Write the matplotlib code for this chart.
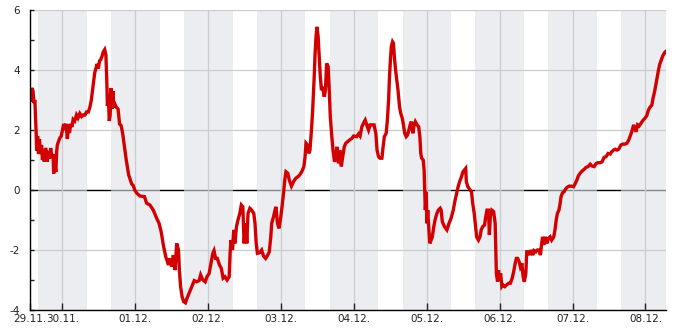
import numpy as np
import matplotlib
matplotlib.use('Agg')
import matplotlib.pyplot as plt
from matplotlib.ticker import MultipleLocator

# hours since 29.11. 00:00 and values
hours = [13.3, 13.6, 13.9, 14.3, 14.6, 14.9, 15.3, 15.5, 15.8, 16.1, 16.4, 16.8, 17.1, 17.4, 17.7, 18.0,
         18.4, 18.7, 19.0, 19.4, 19.8, 20.1, 20.5, 20.9, 21.1, 21.5, 21.8, 22.1, 22.3, 22.8, 23.2, 23.6,
         24.0, 24.4, 24.8, 25.2, 25.6, 26.0, 26.3, 26.7, 27.1, 27.5, 28.0, 28.6, 29.1, 29.7, 30.3, 30.8,
         31.4, 31.9, 32.5, 33.0, 33.5, 34.1, 34.6, 35.0, 35.4, 35.8, 36.2, 36.6, 37.0, 37.4, 37.9, 38.3,
         38.6, 38.8, 39.1, 39.4, 39.7, 40.0, 40.3, 40.6, 40.9, 41.3, 41.8, 42.3, 42.8, 43.3, 43.8, 44.2,
         44.6, 45.0, 45.4, 45.8, 46.3, 46.8, 47.3, 47.8,
         48.5, 49.5, 51.0, 51.7, 52.8, 53.9, 55.0, 55.8, 56.5, 57.2, 58.0, 58.9, 59.4, 60.0, 60.5, 61.1,
         61.6, 62.2, 62.5, 62.9, 63.4, 63.9, 64.5, 65.0, 65.7, 66.6, 67.4, 68.2, 69.0, 69.5, 70.1, 71.0,
         71.6, 72.3, 72.9, 73.5, 73.9, 74.4, 75.0, 75.7, 76.3, 76.9, 77.5, 78.2, 78.9, 79.2, 79.5, 80.0,
         80.4, 80.8, 81.3, 81.8, 82.4, 82.9, 83.4, 83.8,
         84.4, 84.7, 85.1, 85.7, 86.3, 87.0, 87.4, 87.8, 88.2, 88.9, 89.6, 90.2, 90.9, 91.6, 92.1, 92.6,
         92.9, 93.5, 94.0, 94.3, 94.8, 95.3, 95.9, 96.3, 96.8, 97.2, 97.6, 98.2, 98.7, 99.4, 100.1, 100.8,
         101.5, 102.1, 102.8, 103.5, 103.9, 104.2, 104.7, 105.1, 105.5, 106.0, 106.4, 106.9, 107.2, 107.5,
         107.8, 108.2, 108.5, 108.9, 109.3, 109.7, 110.2, 110.6, 111.0, 111.5, 111.9, 112.2, 112.7, 113.1,
         113.6, 114.0, 114.4, 114.9, 115.3, 115.8, 116.3, 116.8, 117.3, 117.9, 118.6, 119.3, 119.9,
         120.9, 121.5, 122.0, 122.6, 123.1, 123.7, 124.2, 124.8, 125.3, 126.1, 126.6, 127.2, 127.6, 128.1,
         128.6, 129.2, 129.6, 130.0, 130.6, 131.0, 131.4, 131.7, 132.0, 132.3, 132.7, 133.0, 133.3, 133.7,
         134.1, 134.5, 135.0, 135.4, 135.9, 136.3, 136.7, 137.2, 137.6, 138.1, 138.5, 138.9, 139.4, 139.8,
         140.2, 140.8, 141.3, 141.7, 142.0, 142.3, 142.8, 143.1, 143.3, 143.5, 143.8, 144.0, 144.3, 144.6,
         145.0, 145.4, 145.8, 146.3, 146.7, 147.3, 147.8, 148.4, 148.7, 149.1, 149.8, 150.6, 151.3, 152.0,
         152.7, 153.2, 153.7, 154.3, 154.8, 155.4, 155.9, 156.4,
         156.8, 157.0, 157.5, 158.1, 158.7, 159.1, 159.6, 160.0, 160.4, 161.0, 161.5, 161.9, 162.4, 163.0,
         163.4, 163.8, 164.3, 164.6, 164.9, 165.4, 166.0, 166.5, 166.7, 166.9, 167.3, 167.6, 167.9, 168.3,
         168.7, 169.1, 169.7, 170.2, 170.9, 171.5, 172.1, 172.6, 173.1, 173.5, 173.9, 174.4, 174.8, 175.3,
         175.7, 176.1, 176.6, 176.9, 177.5, 177.9, 178.3, 178.9, 179.3, 179.9, 180.4, 181.0, 181.4, 181.7,
         182.1, 182.5, 183.0, 183.5, 184.1, 184.6, 185.1, 185.8, 186.2, 186.6, 187.0, 187.5, 187.9, 188.2,
         188.7, 189.2, 189.6, 190.2, 190.9,
         191.5, 192.3, 192.8, 193.4, 193.9, 194.5, 195.1, 195.8, 196.5, 197.1, 197.8, 198.4, 199.1, 199.8,
         200.4, 201.1, 201.7, 202.4, 203.0, 203.7, 204.4, 204.9, 205.5, 206.0, 206.6, 207.2, 207.9, 208.5,
         209.2, 209.9, 210.5, 211.1, 211.6, 212.1, 212.5, 212.9, 213.4, 213.9, 214.5, 215.1, 215.8, 216.4,
         217.0, 217.5, 218.1, 218.5, 219.0, 219.4, 219.9, 220.3, 220.7, 221.2, 221.7, 222.3, 222.6]
values = [3.35, 2.95, 3.4, 3.3, 2.9, 3.0, 2.0, 1.3, 1.8, 1.2, 1.7, 1.2, 1.5, 1.0, 1.3, 0.95,
          1.4, 1.3, 0.95, 1.3, 1.05, 1.4, 1.1, 1.2, 0.55, 0.9, 0.6, 1.3, 1.5, 1.65, 1.75, 1.8,
          2.0, 2.2, 2.1, 2.2, 1.7, 2.2, 1.9, 2.2, 2.1, 2.35, 2.3, 2.5, 2.4, 2.55, 2.45, 2.5,
          2.5, 2.6, 2.6, 2.75, 3.0, 3.5, 3.9, 4.05, 4.2, 4.05, 4.3, 4.35, 4.45, 4.6, 4.68, 4.5,
          3.6, 2.8, 3.2, 2.3, 2.5, 3.4, 2.7, 3.3, 2.75, 2.85, 2.75, 2.7, 2.2, 2.15, 1.9, 1.6,
          1.3, 1.0, 0.75, 0.5, 0.35, 0.2, 0.15, 0.0,
          -0.11, -0.2, -0.22, -0.44, -0.5, -0.67, -0.94, -1.11, -1.39, -1.83, -2.22, -2.5, -2.28, -2.56, -2.17, -2.67,
          -1.78, -2.0, -2.67, -3.22, -3.56, -3.72, -3.76, -3.61, -3.44, -3.22, -3.02, -3.06, -3.02, -2.83, -2.98, -3.06,
          -2.89, -2.78, -2.44, -2.11, -2.02, -2.28, -2.28, -2.5, -2.61, -2.94, -2.89, -3.0, -2.89, -2.11, -1.67, -2.0,
          -1.33, -1.78, -1.22, -1.0, -0.78, -0.5, -0.56, -1.78,
          -1.11, -1.78, -0.78, -0.61, -0.67, -0.78, -1.11, -1.78, -2.11, -2.09, -2.0, -2.2, -2.28, -2.17, -2.06, -1.56,
          -1.11, -0.89, -0.67, -0.56, -1.11, -1.28, -0.89, -0.56, -0.11, 0.33, 0.61, 0.56, 0.33, 0.13, 0.28, 0.39,
          0.44, 0.5, 0.61, 0.78, 1.11, 1.56, 1.5, 1.22, 1.33, 2.0, 2.67, 3.78, 4.56, 5.11,
          5.44, 5.11, 4.56, 3.78, 3.33, 3.44, 3.11, 3.33, 4.22, 4.11, 3.22, 2.44, 1.78, 1.33,
          0.94, 1.11, 1.44, 0.89, 1.33, 0.78, 1.11, 1.44, 1.56, 1.61, 1.67, 1.72, 1.8,
          1.78, 1.87, 1.8, 2.11, 2.22, 2.33, 2.17, 2.0, 2.17, 2.17, 2.17, 1.89, 1.33, 1.11,
          1.06, 1.06, 1.44, 1.78, 1.89, 2.33, 3.0, 3.78, 4.33, 4.78, 4.94, 4.89, 4.44, 4.0,
          3.67, 3.33, 2.78, 2.56, 2.39, 2.17, 1.89, 1.78, 1.83, 2.0, 2.17, 2.28, 1.89, 2.17,
          2.28, 2.17, 2.11, 1.78, 1.22, 1.06, 1.0, 0.67, 0.0, -0.67, -0.06, -1.11, -0.67, -1.22,
          -1.78, -1.67, -1.56, -1.22, -1.0, -0.78, -0.67, -0.61, -0.67, -1.06, -1.22, -1.33, -1.11, -0.94,
          -0.67, -0.39, -0.17, 0.11, 0.28, 0.44, 0.61, 0.67,
          0.72, 0.28, 0.11, 0.02, -0.06, -0.44, -0.78, -1.17, -1.56, -1.67, -1.56, -1.33, -1.22, -1.17,
          -0.89, -0.67, -0.67, -1.5, -0.89, -0.67, -0.72, -1.11, -2.0, -2.78, -3.06, -2.67, -3.0, -2.78,
          -3.22, -3.17, -3.22, -3.17, -3.11, -3.11, -2.94, -2.72, -2.44, -2.28, -2.28, -2.39, -2.56, -2.44,
          -2.89, -3.06, -2.78, -2.06, -2.06, -2.17, -2.0, -2.17, -2.02, -2.06, -2.0, -2.0, -2.17, -1.89,
          -1.56, -1.83, -1.56, -1.78, -1.61, -1.56, -1.67, -1.56, -1.33, -1.0, -0.78, -0.67, -0.44, -0.22,
          -0.09, -0.06, 0.02, 0.09, 0.13,
          0.13, 0.11, 0.2, 0.33, 0.47, 0.56, 0.63, 0.69, 0.76, 0.78, 0.86, 0.8, 0.78, 0.89,
          0.91, 0.91, 0.94, 1.09, 1.11, 1.22, 1.2, 1.28, 1.33, 1.36, 1.33, 1.36, 1.5, 1.53,
          1.53, 1.56, 1.67, 1.83, 1.98, 2.17, 2.06, 1.94, 2.17, 2.13, 2.22, 2.31, 2.39, 2.47,
          2.67, 2.76, 2.83, 3.06, 3.28, 3.5, 3.78, 4.0, 4.19, 4.33, 4.47, 4.58, 4.61]

day_labels = ['29.11.', '30.11.', '01.12.', '02.12.', '03.12.', '04.12.', '05.12.', '06.12.', '07.12.', '08.12.']
night_from, night_to = 16, 8   # shaded hours

x0, x1 = 13.3, 222.6
ticks = [x0] + [24 * k for k in range(1, 10)]

fig = plt.figure(figsize=(6.85, 3.3), dpi=100)
ax = fig.add_axes([30 / 685, 20 / 330, 635.5 / 685, 300 / 330])

# zero line sits under the night bands (goes grey inside them)
ax.axhline(0, color='black', lw=1.0, zorder=0.5)

for k in range(10):
    ax.axvspan(24 * k + night_from, 24 * (k + 1) + night_to, color='#dfe1e8', alpha=0.6, lw=0, zorder=1)

ax.plot(hours, values, color='#d20000', lw=2.4, solid_joinstyle='miter', zorder=3)

ax.set_xlim(x0, x1)
ax.set_ylim(-4, 6)
ax.set_xticks(ticks)
ax.set_xticklabels(day_labels)
yt = list(range(-4, 7, 2))
ax.set_yticks(yt)
ax.set_yticklabels([str(v) for v in yt])
ax.yaxis.set_minor_locator(MultipleLocator(1))

ax.grid(True, which='major', color='#cccccc', lw=0.9)
for line in ax.get_xgridlines() + ax.get_ygridlines():
    line.set_zorder(1.5)
ax.get_ygridlines()[yt.index(0)].set_visible(False)

for s in ['top', 'right']:
    ax.spines[s].set_visible(False)
for s in ['left', 'bottom']:
    ax.spines[s].set_linewidth(1.0)
    ax.spines[s].set_zorder(4)

ax.tick_params(axis='x', which='major', direction='in', length=5, width=1, pad=3, labelsize=7.5, colors='#222222')
ax.tick_params(axis='y', which='both', direction='in', length=3, width=1, pad=7, labelsize=7.5, colors='#222222')

plt.savefig('out.png', dpi=100)
